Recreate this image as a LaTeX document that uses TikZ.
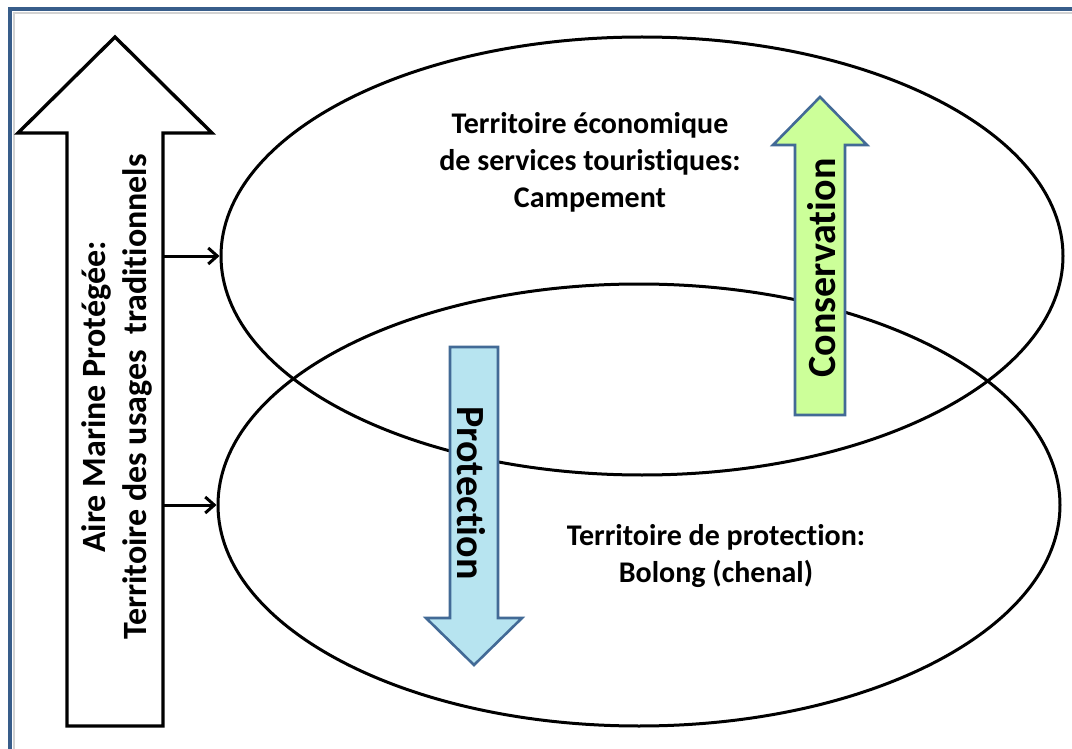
\documentclass[tikz,border=0pt]{standalone}
\usepackage{fontspec}
\setmainfont[Ligatures=NoCommon]{Carlito}
\usetikzlibrary{shapes.geometric,arrows.meta,positioning}
\definecolor{framebl}{RGB}{56,93,138}
\definecolor{arrowbd}{RGB}{66,106,150}
\definecolor{consgreen}{RGB}{204,255,153}
\definecolor{protblue}{RGB}{183,228,240}

\begin{document}
\begin{tikzpicture}[x=1pt,y=-1pt,
 zone/.style={draw,ellipse,line width=3pt,inner sep=0pt},
 bigarrow/.style={draw,line width=3.4pt,fill=white},
 flow/.style={draw=arrowbd,line width=2.6pt},
 zonetext/.style={font=\fontsize{30}{37}\selectfont\bfseries,align=center},
 flowtext/.style={font=\fontsize{40}{48}\selectfont\bfseries},
 link/.style={-{Straight Barb[length=9pt,width=16pt,line width=3pt]},line width=3pt}]
\useasboundingbox (0,0) rectangle (1072,749);
\fill[white] (0,0) rectangle (1072,749);
\draw[gray!35,line width=1.2pt] (14,749) -- (14,13) -- (1072,13);
\draw[framebl,line width=4pt] (10,749) -- (10,9) -- (1072,9);
\node[zone,minimum width=842pt,minimum height=438pt] (touris) at (642,256) {};
\node[zone,minimum width=842pt,minimum height=442pt] (protec) at (639,505) {};
\node[zonetext] (tourtxt) at (590,162) {Territoire économique\\de services touristiques:\\Campement};
\node[zonetext] (protxt) at (716,556) {Territoire de protection:\\Bolong (chenal)};
\draw[bigarrow] (67,726) -- (67,133) -- (18,133) -- (115,37) -- (212,133) -- (163,133) -- (163,726) -- cycle;
\coordinate (ampedge) at (163,400);
\node[rotate=90,font=\fontsize{34}{41}\selectfont\bfseries,align=center] (amptxt) at (117,397)
 {Aire Marine Protégée:\\Territoire des usages\ \ traditionnels};
\draw[flow,fill=consgreen] (795,415) -- (795,145) -- (773,145) -- (820,97) -- (867,145) -- (845,145) -- (845,415) -- cycle;
\node[flowtext,rotate=90] (constxt) at (822,268) {Conservation};
\draw[flow,fill=protblue] (450,347) -- (498,347) -- (498,618) -- (522,618) -- (474,665) -- (426,618) -- (450,618) -- cycle;
\node[flowtext,rotate=-90] (protlbl) at (471,493) {Protection};
\draw[link] (ampedge |- touris.west) -- (touris.west);
\draw[link] (ampedge |- protec.west) -- (protec.west);
\end{tikzpicture}
\end{document}
